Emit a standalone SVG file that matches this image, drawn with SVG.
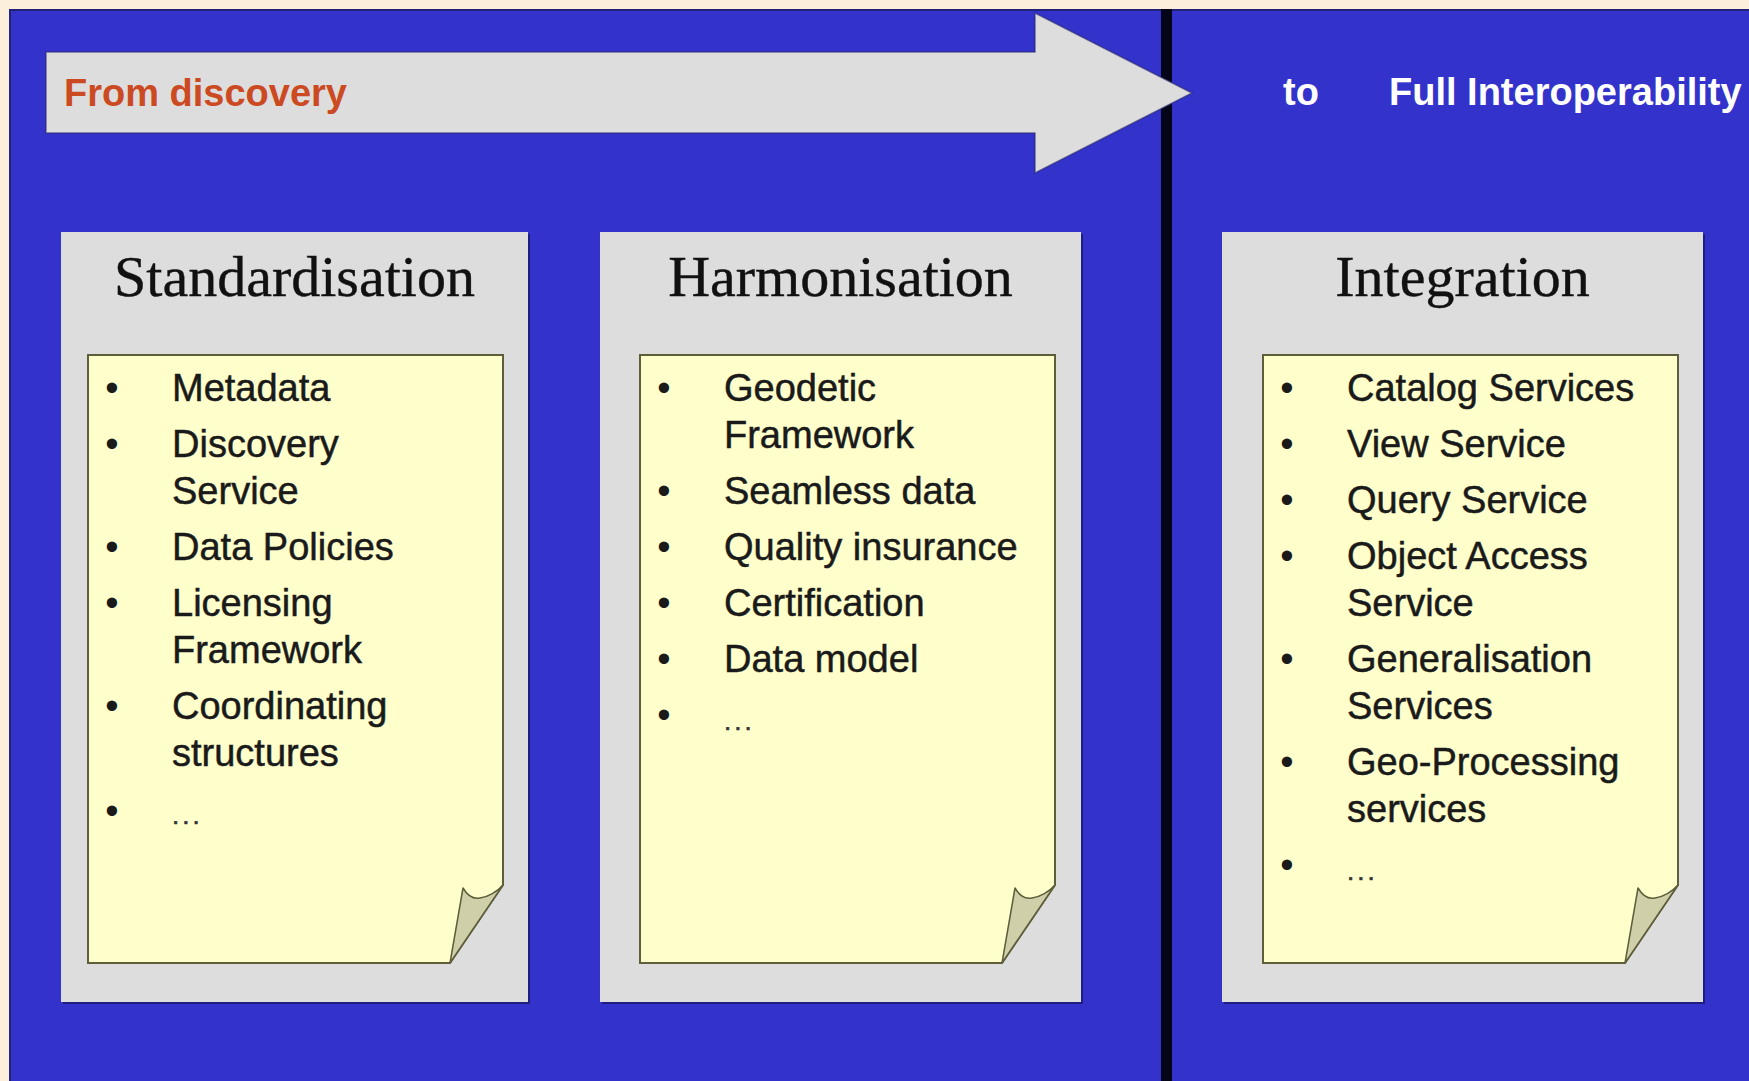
<svg xmlns="http://www.w3.org/2000/svg" width="1749" height="1081" viewBox="0 0 1749 1081">
  <defs>
    <style>
      .bg { fill: #FCEFDC; }
      .panel { fill: #3333CC; }
      .box { fill: #DDDDDD; }
      .boxshadow { fill: #1E1E80; }
      .note { fill: #FFFFCC; stroke: #5E5E3A; stroke-width: 2; }
      .fold { fill: #CFCFAA; stroke: #5E5E3A; stroke-width: 1.5; stroke-linejoin: round; }
      .title { font-family: "Liberation Serif", "Times New Roman", serif; font-size: 58px; fill: #111111; text-anchor: middle; stroke: #111111; stroke-width: 0.4; }
      .item { font-family: "Liberation Sans", Arial, sans-serif; font-size: 38px; fill: #1A1A1A; stroke: #1A1A1A; stroke-width: 0.5; }
      .bullet { font-family: "Liberation Sans", Arial, sans-serif; font-size: 38px; fill: #1A1A1A; text-anchor: middle; }
      .dots { font-family: "Liberation Sans", Arial, sans-serif; font-size: 26px; fill: #333333; stroke: #333333; stroke-width: 0.6; letter-spacing: 3px; }
      .head { font-family: "Liberation Sans", Arial, sans-serif; font-size: 38px; font-weight: bold; }
    </style>
  </defs>

  <rect class="bg" x="0" y="0" width="1749" height="1081"/>
  <rect class="panel" x="9" y="9" width="1740" height="1072"/>
  <line x1="9" y1="10" x2="1749" y2="10" stroke="#222277" stroke-width="2"/>
  <line x1="10" y1="9" x2="10" y2="1081" stroke="#222277" stroke-width="2"/>

  <g id="divider">
    <rect x="1161" y="9" width="11" height="1072" fill="#05051A"/>
  </g>

  <g id="connectors">
    <polygon points="46,52 1035,52 1035,13 1192,93 1035,173 1035,133 46,133" fill="#DDDDDD" stroke="#24246A" stroke-width="1.5" stroke-opacity="0.6"/>
  </g>

  <g id="header-from">
    <text class="head" x="64" y="106" fill="#CC4A22">From discovery</text>
  </g>
  <g id="header-to">
    <text class="head" x="1283" y="105" fill="#FFFFFF">to</text>
    <text class="head" x="1389" y="105" fill="#FFFFFF">Full Interoperability</text>
  </g>

  <g id="standardisation">
    <rect class="boxshadow" x="63" y="234" width="467" height="770"/>
    <rect class="box" x="61" y="232" width="467" height="770"/>
    <text class="title" x="294.5" y="296">Standardisation</text>
    <path class="note" d="M88,355 H503 V885 L450,963 H88 Z"/>
    <path class="fold" d="M450,963 L463,888 Q470,900 480,898 Q493,896 503,885 Z"/>
    <text class="bullet" x="112" y="401">•</text>
    <text class="item" x="172" y="401">Metadata</text>
    <text class="bullet" x="112" y="457">•</text>
    <text class="item" x="172" y="457">Discovery</text>
    <text class="item" x="172" y="504">Service</text>
    <text class="bullet" x="112" y="560">•</text>
    <text class="item" x="172" y="560">Data Policies</text>
    <text class="bullet" x="112" y="616">•</text>
    <text class="item" x="172" y="616">Licensing</text>
    <text class="item" x="172" y="663">Framework</text>
    <text class="bullet" x="112" y="719">•</text>
    <text class="item" x="172" y="719">Coordinating</text>
    <text class="item" x="172" y="766">structures</text>
    <text class="bullet" x="112" y="824">•</text>
    <text class="dots" x="172" y="824">...</text>
  </g>

  <g id="harmonisation">
    <rect class="boxshadow" x="602" y="234" width="481" height="770"/>
    <rect class="box" x="600" y="232" width="481" height="770"/>
    <text class="title" x="840.5" y="296">Harmonisation</text>
    <g transform="translate(552,0)">
      <path class="note" d="M88,355 H503 V885 L450,963 H88 Z"/>
      <path class="fold" d="M450,963 L463,888 Q470,900 480,898 Q493,896 503,885 Z"/>
    </g>
    <text class="bullet" x="664" y="401">•</text>
    <text class="item" x="724" y="401">Geodetic</text>
    <text class="item" x="724" y="448">Framework</text>
    <text class="bullet" x="664" y="504">•</text>
    <text class="item" x="724" y="504">Seamless data</text>
    <text class="bullet" x="664" y="560">•</text>
    <text class="item" x="724" y="560">Quality insurance</text>
    <text class="bullet" x="664" y="616">•</text>
    <text class="item" x="724" y="616">Certification</text>
    <text class="bullet" x="664" y="672">•</text>
    <text class="item" x="724" y="672">Data model</text>
    <text class="bullet" x="664" y="728">•</text>
    <text class="dots" x="724" y="730">...</text>
  </g>

  <g id="integration">
    <rect class="boxshadow" x="1224" y="234" width="481" height="770"/>
    <rect class="box" x="1222" y="232" width="481" height="770"/>
    <text class="title" x="1462.5" y="296">Integration</text>
    <g transform="translate(1175,0)">
      <path class="note" d="M88,355 H503 V885 L450,963 H88 Z"/>
      <path class="fold" d="M450,963 L463,888 Q470,900 480,898 Q493,896 503,885 Z"/>
    </g>
    <text class="bullet" x="1287" y="401">•</text>
    <text class="item" x="1347" y="401">Catalog Services</text>
    <text class="bullet" x="1287" y="457">•</text>
    <text class="item" x="1347" y="457">View Service</text>
    <text class="bullet" x="1287" y="513">•</text>
    <text class="item" x="1347" y="513">Query Service</text>
    <text class="bullet" x="1287" y="569">•</text>
    <text class="item" x="1347" y="569">Object Access</text>
    <text class="item" x="1347" y="616">Service</text>
    <text class="bullet" x="1287" y="672">•</text>
    <text class="item" x="1347" y="672">Generalisation</text>
    <text class="item" x="1347" y="719">Services</text>
    <text class="bullet" x="1287" y="775">•</text>
    <text class="item" x="1347" y="775">Geo-Processing</text>
    <text class="item" x="1347" y="822">services</text>
    <text class="bullet" x="1287" y="878">•</text>
    <text class="dots" x="1347" y="880">...</text>
  </g>
</svg>
